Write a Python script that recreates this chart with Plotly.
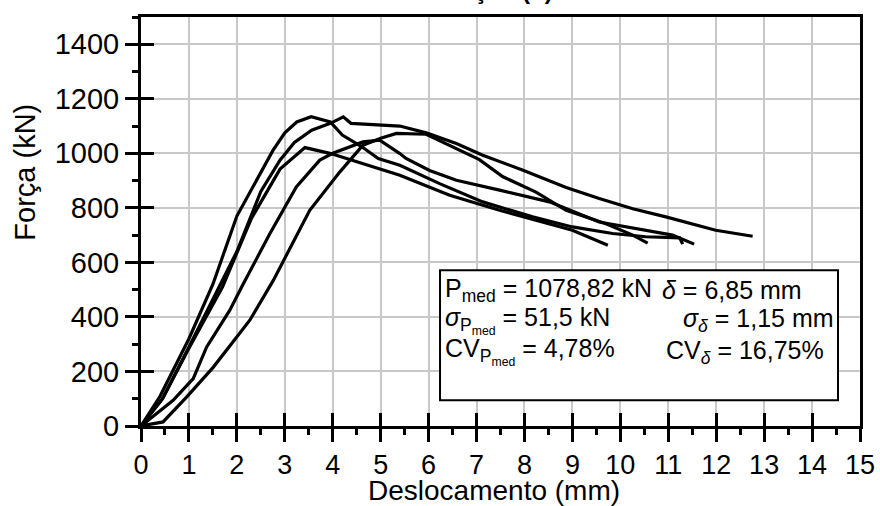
import plotly.graph_objects as go

# ---- data (displacement in mm, force in kN) ----
s1_x = [0, 0.4, 1.0, 1.5, 2.0, 2.4, 2.75, 3.0, 3.25, 3.55, 3.95, 4.2, 4.6, 4.95, 5.4, 6.23, 7.13, 8.17, 9.0, 9.84, 10.53, 11.24, 11.3]
s1_y = [0, 110, 320, 520, 770, 900, 1010, 1075, 1115, 1134, 1115, 1067, 1025, 981, 956, 889, 822, 767, 730, 706, 694, 690, 667]

s2_x = [0, 0.45, 1.0, 1.6, 2.0, 2.5, 2.9, 3.2, 3.56, 3.95, 4.22, 4.38, 4.9, 5.4, 5.95, 6.58, 7.13, 7.97, 8.87, 9.56, 10.26, 10.95, 11.99, 12.76]
s2_y = [0, 100, 290, 500, 640, 860, 975, 1040, 1085, 1110, 1134, 1110, 1105, 1100, 1075, 1036, 993, 938, 875, 834, 797, 767, 718, 696]

s3_x = [0, 0.45, 1.0, 1.7, 2.3, 2.9, 3.42, 3.94, 5.4, 6.44, 7.48, 8.52, 9.0, 9.74]
s3_y = [0, 100, 285, 510, 760, 942, 1021, 1000, 920, 846, 791, 742, 718, 663]

s4_x = [0, 0.67, 1.09, 1.37, 1.85, 2.1, 2.69, 3.24, 3.73, 4.0, 4.63, 4.98, 5.4, 5.53, 6.02, 6.58, 7.48, 8.52, 9.56, 11.09, 11.54]
s4_y = [0, 94, 174, 290, 424, 510, 706, 877, 975, 1000, 1042, 1048, 999, 981, 937, 901, 865, 822, 748, 700, 667]

s5_x = [0, 0.46, 0.95, 1.51, 2.27, 2.76, 3.52, 4.15, 4.63, 5.0, 5.33, 5.95, 7.06, 7.55, 8.24, 8.87, 9.70, 10.26, 10.57]
s5_y = [0, 15, 106, 216, 388, 534, 791, 932, 1030, 1055, 1073, 1070, 977, 914, 858, 791, 742, 700, 671]

series = [(s1_x, s1_y), (s2_x, s2_y), (s3_x, s3_y), (s4_x, s4_y), (s5_x, s5_y)]

x_title = "Deslocamento (mm)"
y_title = "Força (kN)"
top_title = "<b>Tração (T)</b>"

box_lines = [
    ("P<sub>med</sub> = 1078,82 kN", "<i>δ</i> = 6,85 mm"),
    ("<i>σ</i><sub>P<sub>med</sub></sub> = 51,5 kN", "<i>σ</i><sub><i>δ</i></sub> = 1,15 mm"),
    ("CV<sub>P<sub>med</sub></sub> = 4,78%", "CV<sub><i>δ</i></sub> = 16,75%"),
]

FONT = "Liberation Sans, Arial, sans-serif"

fig = go.Figure()
for xs, ys in series:
    fig.add_trace(go.Scatter(x=xs, y=ys, mode="lines",
                             line=dict(color="black", width=3.2),
                             showlegend=False, hoverinfo="skip"))
# empty trace to host the overlay axes (inner half of the crossing ticks)
fig.add_trace(go.Scatter(x=[], y=[], xaxis="x2", yaxis="y2", showlegend=False))

axis_common = dict(showline=True, linecolor="black", linewidth=3, mirror=True,
                   zeroline=False, ticks="outside", ticklen=13, tickwidth=3,
                   tickcolor="black", showgrid=True, gridcolor="#c8c8c8", gridwidth=1.5,
                   automargin=False)

fig.update_layout(
    width=880, height=506,
    margin=dict(l=141, r=20, t=17, b=80),
    paper_bgcolor="white", plot_bgcolor="white",
    font=dict(family=FONT, color="black"),
    xaxis=dict(range=[0, 15], tick0=0, dtick=1, **axis_common,
               tickfont=dict(size=27, family=FONT),
               minor=dict(dtick=0.5, ticks="outside", ticklen=6, tickwidth=2.5,
                          tickcolor="black", showgrid=False)),
    yaxis=dict(range=[0, 1500], tick0=0, dtick=200, **axis_common,
               tickfont=dict(size=29, family=FONT),
               minor=dict(dtick=100, ticks="outside", ticklen=6, tickwidth=2.5,
                          tickcolor="black", showgrid=False)),
    xaxis2=dict(overlaying="x", matches="x", anchor="y2", side="bottom",
                ticks="inside", ticklen=13, tickwidth=3, tickcolor="black",
                tick0=0, dtick=1, showticklabels=False, showgrid=False,
                showline=False, zeroline=False, automargin=False),
    yaxis2=dict(overlaying="y", matches="y", anchor="x2", side="left",
                ticks="inside", ticklen=13, tickwidth=3, tickcolor="black",
                tick0=0, dtick=200, showticklabels=False, showgrid=False,
                showline=False, zeroline=False, automargin=False),
)

# axis titles (placed as in the reference: y title sits above the centre)
fig.add_annotation(text=x_title, xref="paper", yref="paper", x=0.491, y=-0.2,
                   xanchor="center", yanchor="bottom", showarrow=False,
                   font=dict(size=28, family=FONT, color="black"))
fig.add_annotation(text=y_title, xref="paper", yref="paper", x=-0.161, y=0.62,
                   xanchor="center", yanchor="middle", textangle=-90, showarrow=False,
                   font=dict(size=29, family=FONT, color="black"))

# statistics box
fig.add_shape(type="rect", xref="paper", yref="paper",
              x0=0.4159, x1=0.9694, y0=0.0628, y1=0.3807,
              line=dict(color="black", width=2), fillcolor="white", layer="above")

line_y = [0.333, 0.258, 0.181]
left_x = 0.42
right_x = [0.722, 0.751, 0.727]
for (lt, rt), yy, rx in zip(box_lines, line_y, right_x):
    fig.add_annotation(text=lt, xref="paper", yref="paper", x=left_x, y=yy,
                       xanchor="left", yanchor="middle", showarrow=False,
                       font=dict(size=25, family=FONT, color="black"))
    fig.add_annotation(text=rt, xref="paper", yref="paper", x=rx, y=yy,
                       xanchor="left", yanchor="middle", showarrow=False,
                       font=dict(size=25, family=FONT, color="black"))

# title mostly outside the canvas (only its bottom edge visible)
fig.add_annotation(text=top_title, xref="paper", yref="paper", x=0.493, y=1.0,
                   yanchor="bottom", yshift=11, showarrow=False,
                   font=dict(size=24, family=FONT, color="black"))

fig.write_html("out.html")
